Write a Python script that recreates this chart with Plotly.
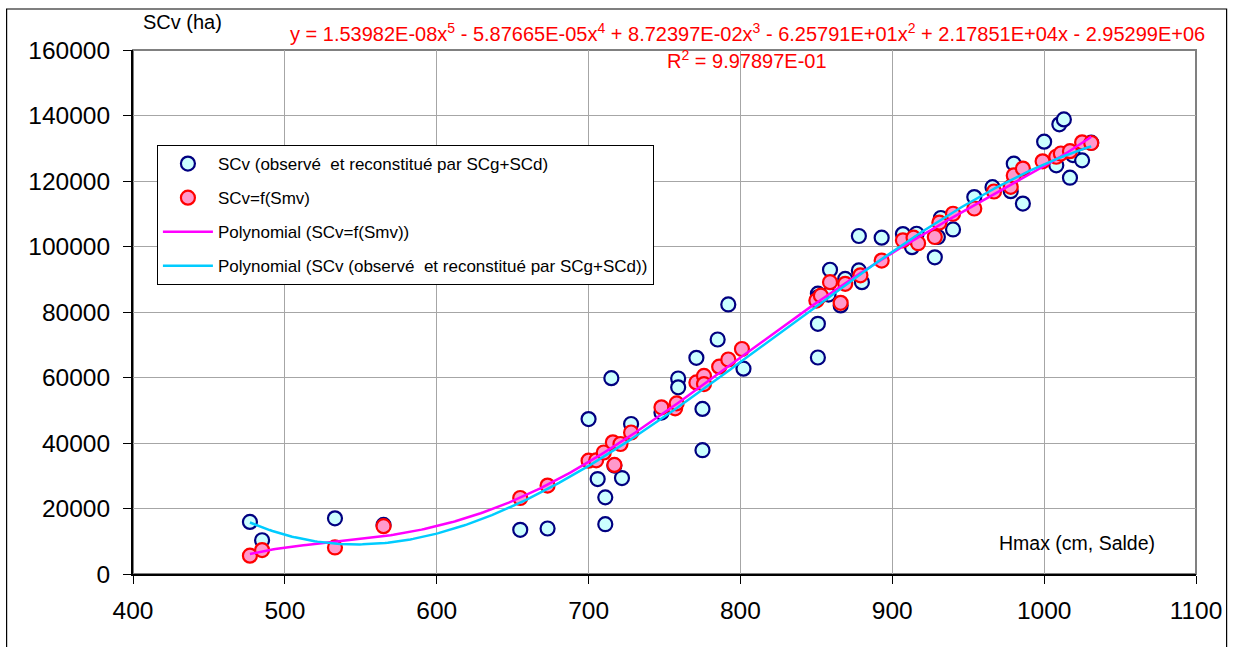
import numpy as np
import plotly.graph_objects as go

# Hmax (cm, Salde) and SCv (ha): observed / reconstructed by SCg+SCd
obs_h = [477, 485, 533, 565, 655, 673, 700, 706, 711, 711, 715, 717, 722, 728,
         748, 759, 759, 771, 775, 775, 785, 792, 802, 851, 851, 851, 851, 858,
         859, 866, 869, 878, 880, 878, 893, 907, 913, 916, 928, 930, 932, 940,
         954, 966, 978, 980, 986, 1000, 1008, 1010, 1013, 1017, 1019, 1025, 1031]
obs_scv = [15900, 10300, 17000, 15000, 13500, 13900, 47300, 29000, 23400, 15200,
           59800, 33100, 29300, 45800, 49300, 59700, 57000, 66000, 50400, 37800,
           71600, 82300, 62700, 85600, 84500, 76400, 66100, 85300, 92900, 82000,
           90100, 92700, 89100, 103200, 102700, 103800, 99800, 103900, 96700,
           102900, 108700, 105200, 115100, 118100, 116900, 125300, 113100, 132000,
           124800, 137300, 138800, 121000, 127900, 126300, 131700]

# SCv computed as f(Smv)
mod_h = [477, 485, 533, 565, 655, 673, 700, 705, 710, 716, 717, 721, 728, 748,
         757, 758, 771, 776, 776, 786, 792, 801, 850, 853, 859, 866, 869, 879,
         893, 907, 914, 917, 928, 931, 940, 954, 967, 978, 980, 986, 999, 1008,
         1011, 1017, 1025, 1031]
mod_scv = [5600, 7300, 8100, 14600, 23200, 27000, 34600, 34700, 37100, 40200,
           33300, 39700, 43200, 50900, 50600, 52100, 58500, 60500, 58000, 63300,
           65500, 68700, 83500, 85000, 89100, 82800, 88600, 91200, 95700, 101900,
           102700, 101000, 102900, 107300, 110000, 111600, 116800, 118200, 121700,
           123800, 126000, 127400, 128400, 129100, 131800, 131600]

# Trendline of SCv=f(Smv): coefficients from x^5 down to constant
poly_coefs = [1.53982e-08, -5.87665e-05, 8.72397e-02, -6.25791e+01, 2.17851e+04, -2.95299e+06]
r_squared = "9.97897E-01"

# Values of the observed-series quintic trendline at a few heights
trend_obs_h = [477, 485, 526, 545, 565, 600, 655, 680, 700, 759, 785, 801, 872, 897, 1001, 1031]
trend_obs_scv = [15900, 14000, 9600, 9300, 9400, 12100, 21800, 27400, 33600, 50900,
                 59000, 65400, 89600, 97300, 125300, 130600]

x_ticks = [400, 500, 600, 700, 800, 900, 1000, 1100]
y_ticks = [0, 20000, 40000, 60000, 80000, 100000, 120000, 140000, 160000]

FONT = "Liberation Sans, Arial, sans-serif"

# trendline curves
xs = np.linspace(min(mod_h), max(mod_h), 300)
y_mod_fit = np.polyval(poly_coefs, xs)
obs_trend = np.polynomial.Polynomial.fit(trend_obs_h, trend_obs_scv, 5)
y_obs_fit = obs_trend(xs)

fig = go.Figure()
fig.add_trace(go.Scatter(
    x=obs_h, y=obs_scv, mode="markers",
    name="SCv (observé\u00a0 et reconstitué par SCg+SCd)",
    marker=dict(size=14, color="#CCFFFF", line=dict(color="#000080", width=2.2)),
    legendrank=1, legendgroup="a"))
fig.add_trace(go.Scatter(
    x=mod_h, y=mod_scv, mode="markers", name="SCv=f(Smv)",
    marker=dict(size=14, color="#FF99CC", line=dict(color="#FF0000", width=2.2)),
    legendrank=2, legendgroup="b"))
fig.add_trace(go.Scatter(
    x=xs, y=y_mod_fit, mode="lines", name="Polynomial (SCv=f(Smv))",
    line=dict(color="#FF00FF", width=2.5), legendrank=3, legendgroup="c"))
fig.add_trace(go.Scatter(
    x=xs, y=y_obs_fit, mode="lines",
    name="Polynomial (SCv (observé\u00a0 et reconstitué par SCg+SCd))",
    line=dict(color="#00CCFF", width=2.5), legendrank=4, legendgroup="d"))

axis_common = dict(
    showgrid=True, gridcolor="#A6A6A6", gridwidth=1,
    showline=True, linecolor="black", linewidth=2,
    ticks="outside", ticklen=8, tickcolor="black", tickwidth=1,
    tickfont=dict(family=FONT, size=24.5, color="black"),
    zeroline=False,
)

fig.update_layout(
    width=1234, height=647, autosize=False,
    margin=dict(l=133, r=33, t=50, b=73),
    paper_bgcolor="white", plot_bgcolor="white",
    font=dict(family=FONT, color="black"),
    xaxis=dict(range=[400, 1100], tickvals=x_ticks, ticklabelstandoff=6, **axis_common),
    yaxis=dict(range=[0, 160000], tickvals=y_ticks, tickformat="d",
               ticklabelstandoff=8, **axis_common),
    legend=dict(
        x=0.0225, y=0.8187, xanchor="left", yanchor="top",
        bgcolor="white", bordercolor="black", borderwidth=1,
        font=dict(family=FONT, size=17, color="black"),
        traceorder="grouped", tracegroupgap=9, itemwidth=50,
    ),
    shapes=[
        # plot area border (top/right in gray)
        dict(type="rect", xref="paper", yref="paper", x0=0, x1=1, y0=0, y1=1,
             line=dict(color="#808080", width=2), layer="below"),
        # outer chart frame
        dict(type="rect", xref="paper", yref="paper", x0=-0.1189, x1=1.0288,
             y0=-0.17, y1=1.0782, line=dict(color="black", width=1.2)),
    ],
    annotations=[
        dict(text="SCv (ha)", xref="paper", yref="paper", x=(183 - 133) / 1068,
             y=(574 - 22) / 524, showarrow=False, xanchor="center", yanchor="middle",
             font=dict(family=FONT, size=20, color="black")),
        dict(text="Hmax (cm, Salde)", xref="paper", yref="paper", x=(1081 - 133) / 1068,
             y=(574 - 543) / 524, showarrow=False, xanchor="center", yanchor="middle",
             font=dict(family=FONT, size=19.5, color="black")),
        dict(text="y = 1.53982E-08x<sup>5</sup> - 5.87665E-05x<sup>4</sup> + 8.72397E-02x<sup>3</sup>"
                  " - 6.25791E+01x<sup>2</sup> + 2.17851E+04x - 2.95299E+06",
             xref="paper", yref="paper", x=(750 - 133) / 1068, y=(574 - 32) / 524,
             showarrow=False, xanchor="center", yanchor="middle",
             font=dict(family=FONT, size=20, color="#FF0000")),
        dict(text="R<sup>2</sup> = " + r_squared,
             xref="paper", yref="paper", x=(750 - 133) / 1068, y=(574 - 60) / 524,
             showarrow=False, xanchor="center", yanchor="middle",
             font=dict(family=FONT, size=20, color="#FF0000")),
    ],
)

fig.write_html("out.html", config={"responsive": False})
